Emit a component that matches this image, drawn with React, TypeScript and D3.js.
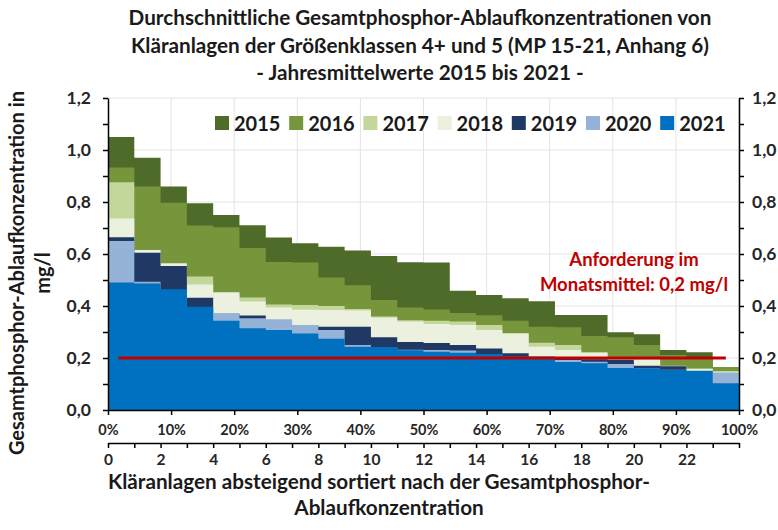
import React, { useEffect, useRef } from 'react';
import * as d3 from 'd3';

// plants, sorted descending per year (1..24)
const plants = d3.range(1, 25);
const years = ['2015', '2016', '2017', '2018', '2019', '2020', '2021'];
const yearColors = ['#4f6b2a', '#77963c', '#c4d79b', '#ebf1de', '#1f3864', '#95b3d7', '#0070c0'];

// mean total phosphorus (mg/l), one value per plant
const p2015 = [1.05, 0.97, 0.86, 0.795, 0.75, 0.711, 0.663, 0.641, 0.628, 0.613, 0.592, 0.568, 0.567, 0.459, 0.442, 0.43, 0.418, 0.365, 0.365, 0.299, 0.291, 0.231, 0.222, 0.16];
const p2016 = [0.933, 0.86, 0.797, 0.71, 0.703, 0.623, 0.569, 0.567, 0.51, 0.48, 0.423, 0.394, 0.387, 0.373, 0.364, 0.343, 0.32, 0.318, 0.285, 0.28, 0.25, 0.212, 0.2, 0.165];
const p2017 = [0.876, 0.6, 0.55, 0.513, 0.445, 0.433, 0.406, 0.404, 0.4, 0.388, 0.36, 0.345, 0.343, 0.34, 0.327, 0.29, 0.259, 0.25, 0.222, 0.2, 0.19, 0.17, 0.16, 0.15];
const p2018 = [0.737, 0.615, 0.564, 0.483, 0.453, 0.417, 0.394, 0.386, 0.385, 0.383, 0.356, 0.34, 0.331, 0.327, 0.308, 0.295, 0.243, 0.231, 0.22, 0.198, 0.195, 0.168, 0.158, 0.145];
const p2019 = [0.664, 0.605, 0.554, 0.432, 0.37, 0.363, 0.345, 0.325, 0.32, 0.32, 0.28, 0.262, 0.258, 0.25, 0.237, 0.218, 0.205, 0.198, 0.195, 0.193, 0.17, 0.168, 0.148, 0.13];
const p2020 = [0.65, 0.493, 0.46, 0.39, 0.372, 0.353, 0.349, 0.327, 0.308, 0.25, 0.24, 0.232, 0.231, 0.229, 0.215, 0.205, 0.2, 0.192, 0.186, 0.177, 0.16, 0.155, 0.15, 0.144];
const p2021 = [0.49, 0.487, 0.464, 0.397, 0.343, 0.314, 0.308, 0.294, 0.274, 0.243, 0.242, 0.23, 0.224, 0.22, 0.215, 0.207, 0.205, 0.185, 0.18, 0.162, 0.16, 0.154, 0.151, 0.103];

const requirement = 0.2;
const yTicks = [0, 0.2, 0.4, 0.6, 0.8, 1.0, 1.2];
const pctTicks = [0, 10, 20, 30, 40, 50, 60, 70, 80, 90, 100];
const countLabels = [0, 2, 4, 6, 8, 10, 12, 14, 16, 18, 20, 22];

const titleLines = [
  'Durchschnittliche Gesamtphosphor-Ablaufkonzentrationen von',
  'Kläranlagen der Größenklassen 4+ und 5 (MP 15-21, Anhang 6)',
  '- Jahresmittelwerte 2015 bis 2021 -',
];

const FONT = 'Lato, "Open Sans", sans-serif';

const App = () => {
  const svgRef = useRef<SVGSVGElement>(null);

  useEffect(() => {
    const svg = d3.select(svgRef.current);
    svg.selectAll('*').remove();

    const series = [p2015, p2016, p2017, p2018, p2019, p2020, p2021];

    const x = d3.scaleLinear().domain([0, plants.length]).range([108, 739]);
    const xPct = d3.scaleLinear().domain([0, 100]).range([108, 739]);
    const y = d3.scaleLinear().domain([0, 1.2]).range([410, 98]);
    const comma = (v: number) => d3.format('.1f')(v).replace('.', ',');

    // gridlines
    svg
      .append('g')
      .selectAll('line')
      .data(yTicks.slice(1))
      .enter()
      .append('line')
      .attr('x1', x(0))
      .attr('x2', x(plants.length))
      .attr('y1', (d) => y(d))
      .attr('y2', (d) => y(d))
      .attr('stroke', '#e3e3e3')
      .attr('stroke-width', 1);

    svg
      .append('g')
      .selectAll('line')
      .data(pctTicks.slice(1))
      .enter()
      .append('line')
      .attr('x1', (d) => xPct(d))
      .attr('x2', (d) => xPct(d))
      .attr('y1', y(0))
      .attr('y2', y(1.2))
      .attr('stroke', '#e3e3e3')
      .attr('stroke-width', 1);

    // step areas, 2015 at the back, 2021 in front
    const area = d3
      .area<{ i: number; v: number }>()
      .x((d) => x(d.i))
      .y0(y(0))
      .y1((d) => y(d.v))
      .curve(d3.curveStepAfter);

    series.forEach((vals, k) => {
      const pts = vals.map((v, i) => ({ i, v }));
      pts.push({ i: vals.length, v: vals[vals.length - 1] });
      svg
        .append('path')
        .datum(pts)
        .attr('fill', yearColors[k])
        .attr('d', area);
    });

    // requirement line
    svg
      .append('line')
      .attr('x1', x(0.4))
      .attr('x2', x(23.5))
      .attr('y1', y(requirement))
      .attr('y2', y(requirement))
      .attr('stroke', '#c00000')
      .attr('stroke-width', 3);

    ['Anforderung im', 'Monatsmittel: 0,2 mg/l'].forEach((t, i) => {
      svg
        .append('text')
        .attr('x', 634)
        .attr('y', 266 + i * 24.5)
        .attr('text-anchor', 'middle')
        .style('font', `bold 18.5px ${FONT}`)
        .attr('fill', '#c00000')
        .text(t);
    });

    // legend
    const legend = svg
      .append('g')
      .selectAll('g')
      .data(years)
      .enter()
      .append('g')
      .attr('transform', (d, i) => `translate(${215 + i * 74.2},116)`);
    legend
      .append('rect')
      .attr('width', 14)
      .attr('height', 14)
      .attr('fill', (d, i) => yearColors[i]);
    legend
      .append('text')
      .attr('x', 19)
      .attr('y', 14.5)
      .style('font', `bold 20px ${FONT}`)
      .attr('fill', '#1a1a1a')
      .text((d) => d);

    // axes
    const styleAxis = (g: any, size: number) => {
      g.selectAll('path, line').attr('stroke', '#000').attr('stroke-width', 1.5);
      g.selectAll('text').style('font', `bold ${size}px ${FONT}`).attr('fill', '#262626');
    };
    const yFmt = (d: any) => (Math.round(d * 10) % 2 === 0 ? comma(d) : '');

    svg
      .append('g')
      .attr('transform', `translate(${x(0)},0)`)
      .call(d3.axisLeft(y).tickValues(d3.range(0, 13).map((d) => d / 10)).tickSize(5).tickSizeOuter(0).tickPadding(12).tickFormat(yFmt))
      .call((g: any) => styleAxis(g, 17.5));

    svg
      .append('g')
      .attr('transform', `translate(${x(plants.length)},0)`)
      .call(d3.axisRight(y).tickValues(d3.range(0, 13).map((d) => d / 10)).tickSize(5).tickSizeOuter(0).tickPadding(8).tickFormat(yFmt))
      .call((g: any) => styleAxis(g, 17.5));

    svg
      .append('g')
      .attr('transform', `translate(0,${y(0)})`)
      .call(d3.axisBottom(xPct).tickValues(pctTicks).tickSize(5).tickSizeOuter(0).tickPadding(10)
        .tickFormat((d: any) => `${d}%`))
      .call((g: any) => styleAxis(g, 14.5));

    svg
      .append('g')
      .attr('transform', 'translate(0,443)')
      .call(d3.axisBottom(x).tickValues(d3.range(0, plants.length + 1)).tickSize(5).tickSizeOuter(0).tickPadding(6)
        .tickFormat((d: any) => (countLabels.includes(d) ? String(d) : '')))
      .call((g: any) => styleAxis(g, 15.5));

    // titles
    svg
      .append('g')
      .selectAll('text')
      .data(titleLines)
      .enter()
      .append('text')
      .attr('x', 420)
      .attr('y', (d, i) => 25 + i * 27.5)
      .attr('text-anchor', 'middle')
      .style('font', `bold 20.7px ${FONT}`)
      .attr('fill', '#1a1a1a')
      .text((d) => d);

    svg
      .append('text')
      .attr('transform', 'translate(24,273) rotate(-90)')
      .attr('text-anchor', 'middle')
      .style('font', `bold 20px ${FONT}`)
      .attr('fill', '#1a1a1a')
      .text('Gesamtphosphor-Ablaufkonzentration in');
    svg
      .append('text')
      .attr('transform', 'translate(50,273) rotate(-90)')
      .attr('text-anchor', 'middle')
      .style('font', `bold 20px ${FONT}`)
      .attr('fill', '#1a1a1a')
      .text('mg/l');

    svg
      .append('text')
      .attr('x', 379)
      .attr('y', 489)
      .attr('text-anchor', 'middle')
      .style('font', `bold 20.7px ${FONT}`)
      .attr('fill', '#1a1a1a')
      .text('Kläranlagen absteigend sortiert nach der Gesamtphosphor-');
    svg
      .append('text')
      .attr('x', 389)
      .attr('y', 515)
      .attr('text-anchor', 'middle')
      .style('font', `bold 20.7px ${FONT}`)
      .attr('fill', '#1a1a1a')
      .text('Ablaufkonzentration');
  }, []);

  return (
    <svg
      ref={svgRef}
      width={778}
      height={530}
      style={{ position: 'absolute', left: 0, top: 0, background: '#fff' }}
    />
  );
};

export default App;
